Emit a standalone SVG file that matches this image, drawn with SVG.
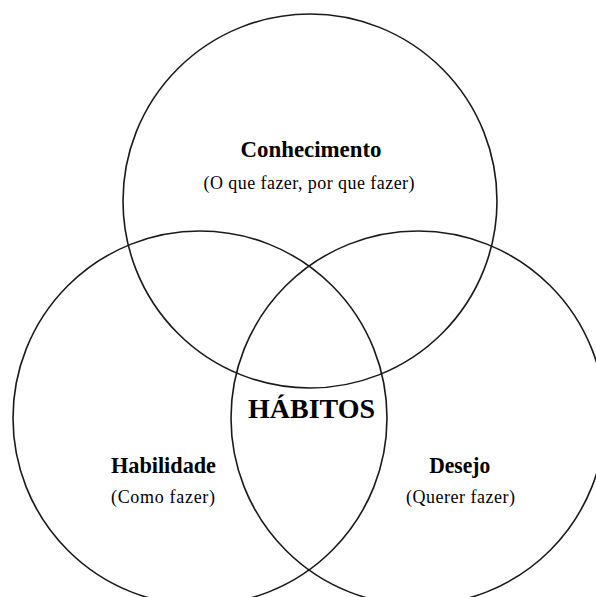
<svg xmlns="http://www.w3.org/2000/svg" width="596" height="597" viewBox="0 0 596 597">
<style>
.c{fill:none;stroke:#1a1a1a;stroke-width:1.6}
.t{font-family:"Liberation Serif","Times New Roman",serif;font-weight:bold;fill:#000;text-anchor:middle}
.s{font-family:"Liberation Serif","Times New Roman",serif;font-size:18px;fill:#000;text-anchor:middle}
</style>
<rect width="596" height="597" fill="#fff"/>
<g id="conhecimento">
<circle class="c" cx="310" cy="201" r="187"/>
<text class="t" x="311" y="157" font-size="22.5" textLength="141" lengthAdjust="spacingAndGlyphs">Conhecimento</text>
<text class="s" x="309" y="189" textLength="211" lengthAdjust="spacing">(O que fazer, por que fazer)</text>
</g>
<g id="habilidade">
<circle class="c" cx="200" cy="418" r="187"/>
<text class="t" x="163.5" y="473" font-size="22.5" textLength="105" lengthAdjust="spacingAndGlyphs">Habilidade</text>
<text class="s" x="163" y="503" textLength="104" lengthAdjust="spacing">(Como fazer)</text>
</g>
<g id="desejo">
<circle class="c" cx="418" cy="418" r="187"/>
<text class="t" x="459.7" y="473" font-size="22.5" textLength="61" lengthAdjust="spacingAndGlyphs">Desejo</text>
<text class="s" x="460.5" y="503" textLength="109" lengthAdjust="spacing">(Querer fazer)</text>
</g>
<g id="habitos">
<text class="t" x="311.5" y="418" font-size="28" textLength="127" lengthAdjust="spacingAndGlyphs">HÁBITOS</text>
</g>
</svg>
